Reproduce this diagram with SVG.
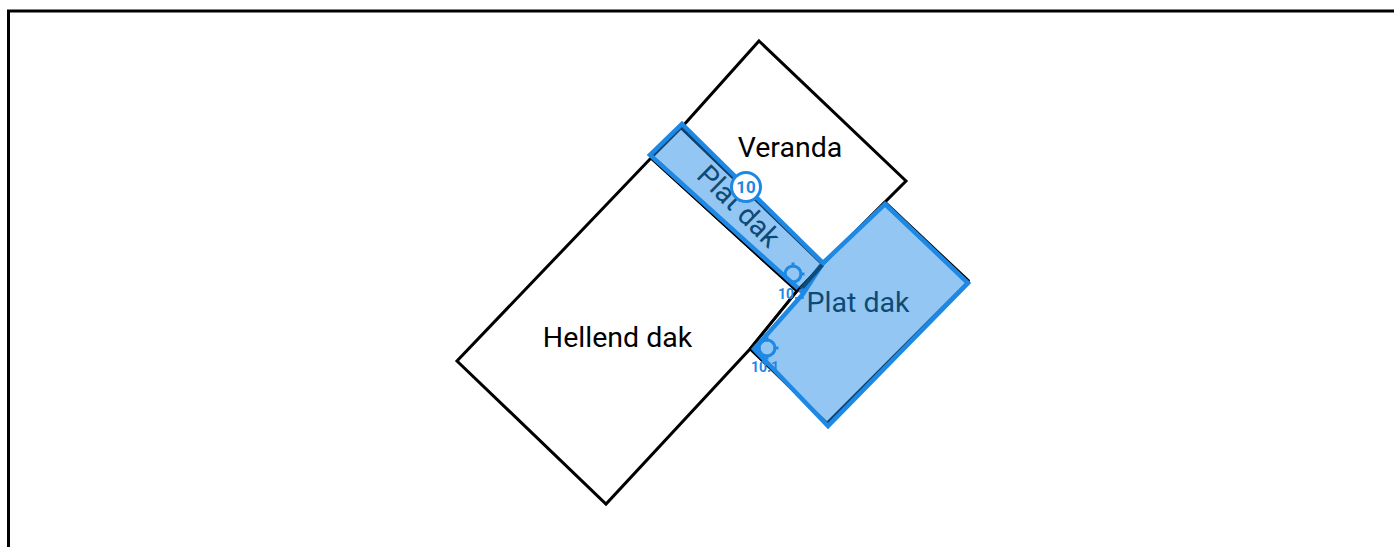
<svg xmlns="http://www.w3.org/2000/svg" width="1394" height="547" viewBox="0 0 1394 547">
<style>
.roof{fill:#fff;stroke:#000;stroke-width:3;stroke-linejoin:miter}
.under{fill:none;stroke:#000;stroke-width:2.500;stroke-linejoin:bevel}
.sel{fill:#1e88e5;fill-opacity:.48;stroke:#1e88e5;stroke-width:4.500;stroke-linejoin:miter}
text{font-family:Roboto,"Liberation Sans",sans-serif;text-anchor:middle}
.lbl{font-size:28.5px;fill:#000}
.lbl2{font-size:28.5px;fill:#0d4a75}
.hnd{fill:none;stroke:#1e88e5;stroke-width:3}
.num{font-size:14px;font-weight:700;fill:#1e88e5}
</style>
<rect x="0" y="0" width="1394" height="547" fill="#fff"/>
<path d="M8.500 547V11H1394" fill="none" stroke="#000" stroke-width="3"/>
<g id="veranda"><polygon class="roof" points="759,41 906,181 823,264 682,127"/><text class="lbl" x="790" y="157">Veranda</text></g>
<g id="hellend-dak"><polygon class="roof" points="651,158 797,291 750,349 606,504 457,361"/><text class="lbl" x="617.500" y="347">Hellend dak</text></g>
<g id="plat-dak-1"><polygon class="under" points="681,128 823,265 797,291 651,158"/><polygon class="sel" points="682,124 823,263 801,291 650,155"/><text class="lbl2" x="732" y="213" transform="rotate(44.500 732 213)">Plat dak</text></g>
<g id="plat-dak-2"><polygon class="under" points="885,202 969,281 827,423 750,349 797,291 823,264"/><polygon class="sel" points="885,204 968,283 828,426 754,349 803,294 823,263"/><line x1="822" y1="265" x2="801" y2="289" stroke="#0d4a75" stroke-width="4"/><text class="lbl2" x="858" y="312">Plat dak</text></g>
<g id="marker-10"><circle cx="746" cy="187" r="14.500" fill="#fff" stroke="#1e88e5" stroke-width="3"/><text x="746" y="193" style="font-size:17px;font-weight:700;fill:#1e88e5">10</text></g>
<g id="handle-1"><circle class="hnd" cx="793" cy="274" r="8"/><path class="hnd" d="M793 262.500v5M793 280.500v5M781.500 274h5M799.500 274h5"/><text class="num" x="792" y="299">10.1</text></g>
<g id="handle-2"><circle class="hnd" cx="767" cy="348" r="8"/><path class="hnd" d="M767 336.500v5M767 354.500v5M755.500 348h5M773.500 348h5"/><text class="num" x="765" y="372">10.1</text></g>
<g id="connectors"></g>
</svg>
